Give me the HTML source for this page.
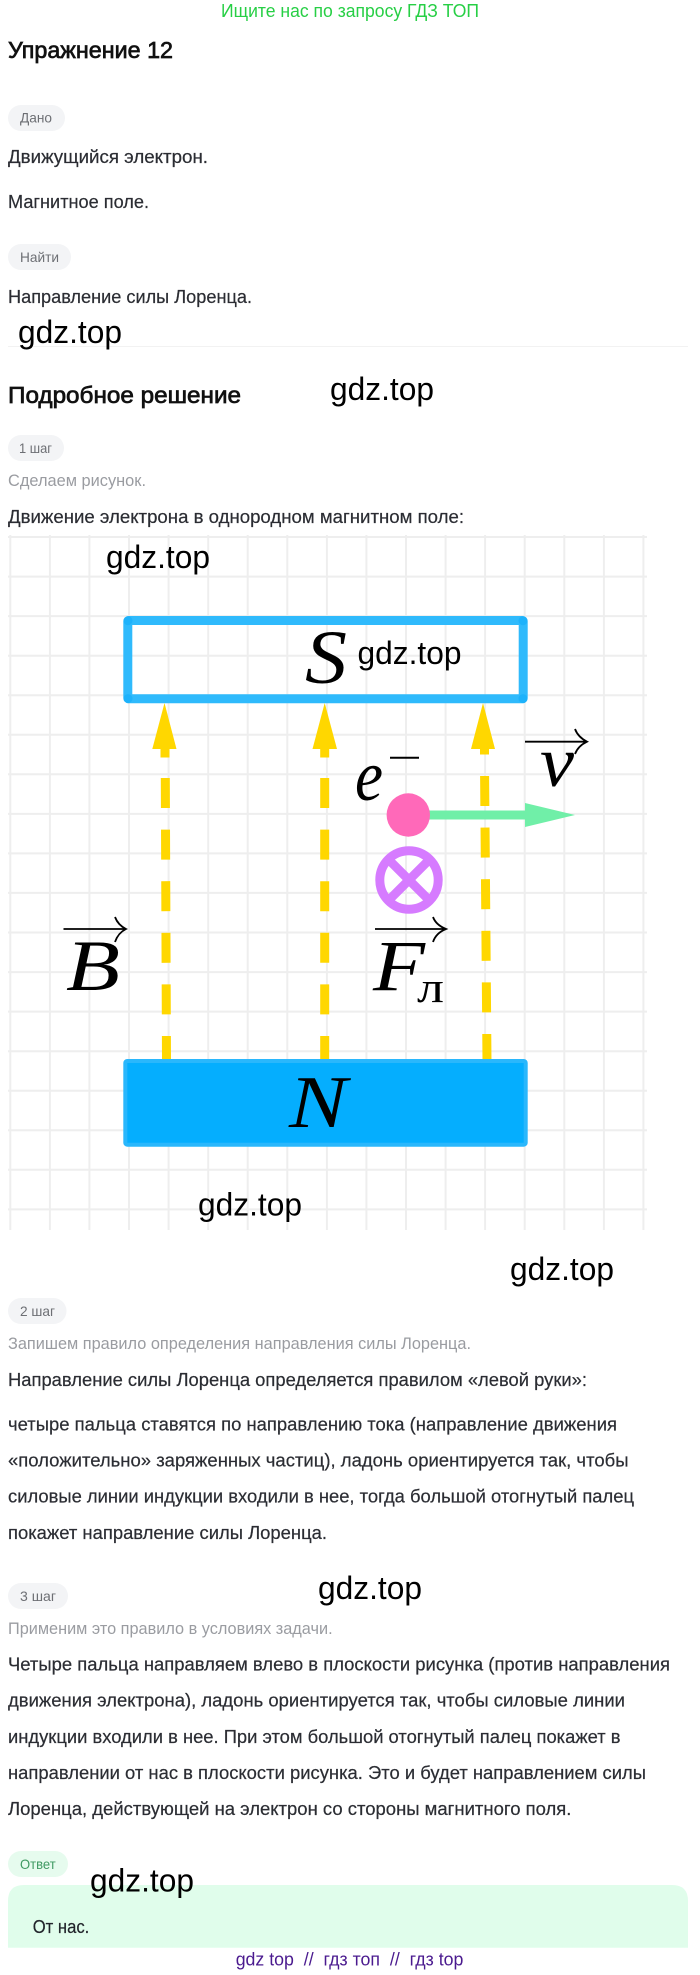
<!DOCTYPE html>
<html lang="ru">
<head>
<meta charset="utf-8">
<title>Упражнение 12</title>
<style>
html,body{margin:0;padding:0;background:#fff;}
svg{display:block;}
text{font-family:"Liberation Sans","DejaVu Sans",sans-serif;white-space:pre;}
.b{font-size:18px;fill:#2b2d33;stroke:#2b2d33;stroke-width:.2px;}
.g{font-size:16.5px;fill:#9a9ca1;}
.t{font-size:14px;fill:#6d6f74;}
.h{font-size:23px;fill:#111;stroke:#111;stroke-width:.7px;}
.w{font-size:32px;fill:#000;}
.m{font-family:"Liberation Serif",serif;font-style:italic;fill:#000;}
</style>
</head>
<body>
<svg xmlns="http://www.w3.org/2000/svg" width="700" height="1975" viewBox="0 0 700 1975">
<rect width="700" height="1975" fill="#fff"/>

<text x="221" y="17" font-size="18" fill="#27cf45" textLength="258" lengthAdjust="spacingAndGlyphs">Ищите нас по запросу ГДЗ ТОП</text>
<text class="h" x="8" y="58" textLength="165" lengthAdjust="spacingAndGlyphs">Упражнение 12</text>

<rect x="8" y="105" width="57" height="26" rx="13" fill="#f3f4f6"/>
<text class="t" x="20" y="122.5" textLength="32" lengthAdjust="spacingAndGlyphs">Дано</text>
<text class="b" x="8" y="163" textLength="200" lengthAdjust="spacingAndGlyphs">Движущийся электрон.</text>
<text class="b" x="8" y="208" textLength="141" lengthAdjust="spacingAndGlyphs">Магнитное поле.</text>
<rect x="8" y="244" width="63" height="26" rx="13" fill="#f3f4f6"/>
<text class="t" x="20" y="262" textLength="39" lengthAdjust="spacingAndGlyphs">Найти</text>
<text class="b" x="8" y="303" textLength="244" lengthAdjust="spacingAndGlyphs">Направление силы Лоренца.</text>

<line x1="8" y1="346.5" x2="688" y2="346.5" stroke="#f2f2f2" stroke-width="1"/>
<text class="h" x="8" y="403" textLength="233" lengthAdjust="spacingAndGlyphs">Подробное решение</text>

<rect x="8" y="435" width="56" height="26" rx="13" fill="#f3f4f6"/>
<text class="t" x="19" y="453" textLength="33" lengthAdjust="spacingAndGlyphs">1 шаг</text>
<text class="g" x="8" y="486" textLength="138" lengthAdjust="spacingAndGlyphs">Сделаем рисунок.</text>
<text class="b" x="8" y="523" textLength="456" lengthAdjust="spacingAndGlyphs">Движение электрона в однородном магнитном поле:</text>

<!-- grid -->
<path fill="none" stroke="#eeeeee" stroke-width="2" d="M10.3 535V1230M49.9 535V1230M89.4 535V1230M129 535V1230M168.6 535V1230M208.2 535V1230M247.7 535V1230M287.3 535V1230M326.9 535V1230M366.4 535V1230M406 535V1230M445.6 535V1230M485.1 535V1230M524.7 535V1230M564.3 535V1230M603.9 535V1230M643.4 535V1230
M8 537H647M8 576.6H647M8 616.1H647M8 655.7H647M8 695.2H647M8 734.8H647M8 774.3H647M8 813.9H647M8 853.4H647M8 892.9H647M8 932.5H647M8 972.1H647M8 1011.6H647M8 1051.2H647M8 1090.7H647M8 1130.3H647M8 1169.8H647M8 1209.4H647"/>

<!-- yellow field lines -->
<g fill="#ffd700">
<polygon points="164.5,703 152.3,749 176.5,749"/>
<polygon points="324.7,703 312.5,749 337,749"/>
<polygon points="483,703 471,749 495,749"/>
<rect x="160.5" y="749" width="9" height="8.5"/>
<rect x="320.2" y="749" width="9" height="8.5"/>
<rect x="480" y="749" width="9" height="5.5"/>
</g>
<g stroke="#ffd700" stroke-width="9" fill="none" stroke-dasharray="30 21.6">
<line x1="165.3" y1="778" x2="166.5" y2="1062"/>
<line x1="324.7" y1="778" x2="324.7" y2="1062"/>
<line x1="484.6" y1="776" x2="487" y2="1062"/>
</g>

<!-- S magnet -->
<rect x="127.8" y="620.5" width="395.4" height="78.3" rx="1" fill="none" stroke="#2fbafc" stroke-width="9"/>
<g fill="#1db2fb">
<circle cx="128" cy="620.7" r="4.5"/><circle cx="523" cy="620.7" r="4.5"/>
<circle cx="128" cy="698.6" r="4.5"/><circle cx="523" cy="698.6" r="4.5"/>
</g>
<text class="m" x="305" y="683" font-size="76" textLength="42" lengthAdjust="spacingAndGlyphs">S</text>

<!-- N magnet -->
<rect x="125.3" y="1061" width="400.4" height="83.7" rx="2" fill="#05aefe" stroke="#2ab7fc" stroke-width="4"/>
<text class="m" x="289" y="1127" font-size="74" textLength="58" lengthAdjust="spacingAndGlyphs">N</text>

<!-- B -->
<text class="m" x="66" y="990" font-size="72" textLength="54" lengthAdjust="spacingAndGlyphs">B</text>
<path d="M63.5 929H125M115 917Q118 925 126 929Q118 933 115 942" fill="none" stroke="#000" stroke-width="1.8"/>

<!-- F -->
<text class="m" x="373" y="990" font-size="72" textLength="52" lengthAdjust="spacingAndGlyphs">F</text>
<text x="417" y="1002" font-size="43" fill="#000" textLength="27" lengthAdjust="spacingAndGlyphs" style="font-family:'Liberation Serif',serif">л</text>
<path d="M375 929H445M433 917Q436 925 446 929Q436 933 433 942" fill="none" stroke="#000" stroke-width="1.8"/>

<!-- v -->
<text class="m" x="540" y="786" font-size="72" textLength="34" lengthAdjust="spacingAndGlyphs">v</text>
<path d="M525 741.7H586M575 729Q578 737 587 741.7Q578 746 575 754" fill="none" stroke="#000" stroke-width="1.8"/>

<!-- e- -->
<text class="m" x="355" y="800" font-size="72" textLength="28" lengthAdjust="spacingAndGlyphs">e</text>
<line x1="390" y1="757.7" x2="419" y2="757.7" stroke="#000" stroke-width="2"/>

<!-- electron + velocity -->
<rect x="428" y="810.5" width="98" height="9" fill="#70efa8"/>
<polygon points="525,803 575,815 525,827" fill="#70efa8"/>
<circle cx="408.3" cy="815" r="21.7" fill="#ff69b9"/>

<!-- force into page -->
<circle cx="409" cy="880" r="29.2" fill="none" stroke="#d67bff" stroke-width="9"/>
<path d="M388.5 859.5L429.5 900.5M429.5 859.5L388.5 900.5" stroke="#d67bff" stroke-width="9" fill="none"/>

<!-- step 2 -->
<rect x="8" y="1298" width="58.5" height="26" rx="13" fill="#f3f4f6"/>
<text class="t" x="20" y="1316" textLength="35" lengthAdjust="spacingAndGlyphs">2 шаг</text>
<text class="g" x="8" y="1349" textLength="463" lengthAdjust="spacingAndGlyphs">Запишем правило определения направления силы Лоренца.</text>
<text class="b" x="8" y="1386" textLength="579" lengthAdjust="spacingAndGlyphs">Направление силы Лоренца определяется правилом «левой руки»:</text>
<text class="b" x="8" y="1430.7" textLength="609" lengthAdjust="spacingAndGlyphs">четыре пальца ставятся по направлению тока (направление движения</text>
<text class="b" x="8" y="1466.7" textLength="620.5" lengthAdjust="spacingAndGlyphs">«положительно» заряженных частиц), ладонь ориентируется так, чтобы</text>
<text class="b" x="8" y="1502.7" textLength="626" lengthAdjust="spacingAndGlyphs">силовые линии индукции входили в нее, тогда большой отогнутый палец</text>
<text class="b" x="8" y="1539" textLength="319" lengthAdjust="spacingAndGlyphs">покажет направление силы Лоренца.</text>

<!-- step 3 -->
<rect x="8" y="1583" width="60" height="26" rx="13" fill="#f3f4f6"/>
<text class="t" x="20" y="1601" textLength="36" lengthAdjust="spacingAndGlyphs">3 шаг</text>
<text class="g" x="8" y="1634" textLength="324.6" lengthAdjust="spacingAndGlyphs">Применим это правило в условиях задачи.</text>
<text class="b" x="8" y="1670.7" textLength="662" lengthAdjust="spacingAndGlyphs">Четыре пальца направляем влево в плоскости рисунка (против направления</text>
<text class="b" x="8" y="1706.7" textLength="617" lengthAdjust="spacingAndGlyphs">движения электрона), ладонь ориентируется так, чтобы силовые линии</text>
<text class="b" x="8" y="1743" textLength="612.5" lengthAdjust="spacingAndGlyphs">индукции входили в нее. При этом большой отогнутый палец покажет в</text>
<text class="b" x="8" y="1779" textLength="638" lengthAdjust="spacingAndGlyphs">направлении от нас в плоскости рисунка. Это и будет направлением силы</text>
<text class="b" x="8" y="1815" textLength="563.4" lengthAdjust="spacingAndGlyphs">Лоренца, действующей на электрон со стороны магнитного поля.</text>

<!-- answer -->
<rect x="8" y="1851" width="60" height="26" rx="13" fill="#e6fbee"/>
<text x="20" y="1869" font-size="14" fill="#3f9a62" textLength="35.7" lengthAdjust="spacingAndGlyphs">Ответ</text>
<path d="M8 1947.7V1901Q8 1885 24 1885H672Q688 1885 688 1901V1947.7Z" fill="#e0fdeb"/>
<text class="b" x="32.7" y="1933" textLength="56.6" lengthAdjust="spacingAndGlyphs" style="fill:#20242a">От нас.</text>

<text x="235.7" y="1965.7" font-size="18" fill="#4b1b8f" textLength="227.7" lengthAdjust="spacingAndGlyphs">gdz top  //  гдз топ  //  гдз top</text>

<!-- watermarks -->
<text class="w" x="18" y="343" textLength="104" lengthAdjust="spacingAndGlyphs">gdz.top</text>
<text class="w" x="330" y="400" textLength="104" lengthAdjust="spacingAndGlyphs">gdz.top</text>
<text class="w" x="106" y="568" textLength="104" lengthAdjust="spacingAndGlyphs">gdz.top</text>
<text class="w" x="357.5" y="664" textLength="104" lengthAdjust="spacingAndGlyphs">gdz.top</text>
<text class="w" x="198" y="1215.5" textLength="104" lengthAdjust="spacingAndGlyphs">gdz.top</text>
<text class="w" x="510" y="1280" textLength="104" lengthAdjust="spacingAndGlyphs">gdz.top</text>
<text class="w" x="318" y="1599" textLength="104" lengthAdjust="spacingAndGlyphs">gdz.top</text>
<text class="w" x="90" y="1891.5" textLength="104" lengthAdjust="spacingAndGlyphs">gdz.top</text>
</svg>
</body>
</html>
